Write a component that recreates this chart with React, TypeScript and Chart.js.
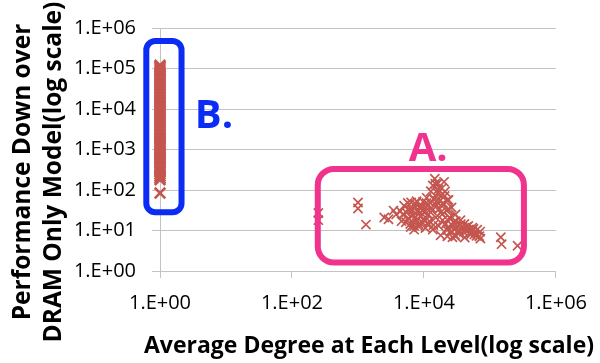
import React, { useEffect, useRef } from 'react';
import { Chart, registerables } from 'chart.js';

Chart.register(...registerables);

// ---- Data ----
// Group B: all points sit at an average degree of 1
const groupBDegree = 1;
const groupBPerf = [
  120000, 110000, 100000, 90000, 81000, 73000, 66000, 59000, 53000, 48000,
  43000, 39000, 35000, 31500, 28000, 25500, 23000, 20500, 18500, 16500,
  15000, 13500, 12000, 10800, 9700, 8700, 7800, 7000, 6300, 5700,
  5100, 4600, 4100, 3700, 3300, 3000, 2700, 2400, 2150, 1950,
  1750, 1550, 1400, 1250, 1120, 1000, 900, 810, 730, 650,
  590, 530, 470, 420, 380, 340, 305, 275, 245, 220,
  200, 180, 84,
];

// Group A
const groupADegree = [
  251, 251, 1000, 1000, 1320, 2500, 2900, 3460, 3800, 4570,
  5000, 5400, 5800, 6200, 6600, 6900, 7400, 7600, 8100, 8400,
  8700, 9100, 9700, 10000, 10300, 10700, 11000, 11500, 11800, 12300,
  12700, 13200, 13600, 14100, 14600, 15100, 15600, 16200, 16700, 17300,
  17900, 18600, 19200, 19900, 20600, 21300, 22000, 22800, 23600, 24400,
  25300, 26200, 28000, 29000, 30000, 32000, 33500, 35700, 38200, 41000,
  44000, 47000, 50500, 54000, 58000, 64000, 69000, 71000, 146000, 150000,
  262000, 6000, 9400, 7100, 4400, 13600, 17900, 27000, 16200, 7100,
  6400, 22600, 30000, 47000,
  4790, 5310, 5690, 6300, 6750, 7230, 7740, 8280, 8870, 9190,
  9840, 10520, 10890, 11670, 12080, 12940, 13840, 14330,
  14830, 16440, 18200, 15350, 19500, 17020, 20890, 22390, 18840, 23120, 20180,
  24780, 27470, 30410, 33710, 36130, 40000, 44360, 50840, 56340, 62470,
  71620, 41400, 29440, 22390,
];
const groupAPerf = [
  27, 18, 49, 35, 14, 21, 19, 31, 25, 17,
  41, 28, 20, 14.5, 33, 24, 46, 18, 30, 12.3,
  39, 22.5, 51, 28, 17, 37, 64, 24, 14.5, 49,
  93, 31, 130, 60, 190, 21, 41, 84, 13, 54,
  28, 110, 18, 44, 71, 14.5, 31, 11.7, 57, 21,
  9.4, 37, 16, 10.5, 25, 13, 8.5, 18, 11.7, 14.5,
  10, 13, 8.9, 11.7, 8, 10.5, 7.2, 9.4, 6.8, 4.6,
  4.2, 33, 16, 13, 30, 10.5, 7.6, 6.8, 145, 10.5,
  49, 7.2, 7.2, 10.5,
  25, 16, 48, 12.2, 31, 21, 53, 14.4, 28, 41,
  19, 11.5, 48, 25, 17, 36, 13.6, 59,
  143, 103, 74, 53, 48, 34, 92, 56, 25, 33, 159,
  20, 12.9, 17, 10.3, 14.4, 9.3, 12.2, 7.9, 10.9, 7.4,
  6.3, 6.7, 7.9, 10.3,
];

const xTickValues = [1, 1e2, 1e4, 1e6];
const xTickLabels = ['1.E+00', '1.E+02', '1.E+04', '1.E+06'];
const yTickValues = [1, 1e1, 1e2, 1e3, 1e4, 1e5, 1e6];
const yTickLabels = ['1.E+00', '1.E+01', '1.E+02', '1.E+03', '1.E+04', '1.E+05', '1.E+06'];

const xTitle = 'Average Degree at Each Level(log scale)';
const yTitleLines = ['Performance Down over', 'DRAM Only Model(log scale)'];

// Annotation boxes (in data coordinates)
const boxLabels = ['B.', 'A.'];
const boxColors = ['#0a2cf5', '#f0338c'];
const boxXMin = [0.62, 246];
const boxXMax = [2.12, 327000];
const boxYMin = [28.4, 1.61];
const boxYMax = [480000, 330];
const boxRadius = [9, 16];
const labelX = [3.37, 5870];
const labelY = [3400, 527];

const MARKER = '#c4564f';
const FONT = '"Open Sans", Lato, sans-serif';

const overlay = {
  id: 'overlay',
  afterDraw(chart: any) {
    const { ctx } = chart;
    const xs = chart.scales.x;
    const ys = chart.scales.y;
    ctx.save();
    for (let i = 0; i < boxLabels.length; i++) {
      const l = xs.getPixelForValue(boxXMin[i]);
      const r = xs.getPixelForValue(boxXMax[i]);
      const t = ys.getPixelForValue(boxYMax[i]);
      const b = ys.getPixelForValue(boxYMin[i]);
      ctx.beginPath();
      ctx.lineWidth = 6;
      ctx.strokeStyle = boxColors[i];
      ctx.roundRect(l, t, r - l, b - t, boxRadius[i]);
      ctx.stroke();
      ctx.fillStyle = boxColors[i];
      ctx.font = `bold 40px ${FONT}`;
      ctx.textAlign = 'left';
      ctx.textBaseline = 'alphabetic';
      ctx.fillText(boxLabels[i], xs.getPixelForValue(labelX[i]), ys.getPixelForValue(labelY[i]));
    }
    // axis titles
    ctx.fillStyle = '#000';
    ctx.textAlign = 'center';
    ctx.textBaseline = 'alphabetic';
    ctx.font = `bold 23px ${FONT}`;
    ctx.fillText(xTitle, 369, 353);
    ctx.font = `bold 24.5px ${FONT}`;
    const baselines = [30, 61];
    for (let i = 0; i < yTitleLines.length; i++) {
      ctx.save();
      ctx.translate(baselines[i], 172);
      ctx.rotate(-Math.PI / 2);
      ctx.fillText(yTitleLines[i], 0, 0);
      ctx.restore();
    }
    ctx.restore();
  },
};

export default function App() {
  const ref = useRef<HTMLCanvasElement>(null);
  useEffect(() => {
    if (!ref.current) return;
    const chart = new Chart(ref.current, {
      type: 'scatter',
      data: {
        datasets: [
          {
            data: groupBPerf.map((v) => ({ x: groupBDegree, y: v })),
            pointStyle: 'crossRot',
            pointRadius: 7.5,
            pointBorderWidth: 2.6,
            pointBorderColor: MARKER,
            pointBackgroundColor: MARKER,
            showLine: false,
            clip: false,
          } as any,
          {
            data: groupADegree.map((d, i) => ({ x: d, y: groupAPerf[i] })),
            pointStyle: 'crossRot',
            pointRadius: 6.5,
            pointBorderWidth: 1.7,
            pointBorderColor: MARKER,
            pointBackgroundColor: MARKER,
            showLine: false,
            clip: false,
          } as any,
        ],
      },
      options: {
        animation: false,
        responsive: false,
        events: [],
        layout: { padding: { top: 18, right: 37, left: 0, bottom: 0 } },
        plugins: { legend: { display: false }, tooltip: { enabled: false } },
        scales: {
          x: {
            type: 'logarithmic',
            min: 1,
            max: 1e6,
            afterBuildTicks: (s: any) => {
              s.ticks = xTickValues.map((v) => ({ value: v }));
            },
            afterFit: (s: any) => {
              s.height = 92;
            },
            ticks: {
              callback: (v: any) => xTickLabels[xTickValues.indexOf(Number(v))],
              font: { family: FONT, size: 20 },
              color: '#000',
              padding: 13,
              maxRotation: 0,
              autoSkip: false,
            },
            grid: { drawOnChartArea: false, tickLength: 7, color: '#c3c3c3' },
            border: { color: '#c3c3c3' },
          },
          y: {
            type: 'logarithmic',
            min: 1,
            max: 1e6,
            afterBuildTicks: (s: any) => {
              s.ticks = yTickValues.map((v) => ({ value: v }));
            },
            afterFit: (s: any) => {
              s.width = 160;
            },
            ticks: {
              callback: (v: any) => yTickLabels[yTickValues.indexOf(Number(v))],
              font: { family: FONT, size: 20 },
              color: '#000',
              padding: 16,
              autoSkip: false,
            },
            grid: { tickLength: 8, color: '#c3c3c3' },
            border: { color: '#c3c3c3' },
          },
        },
      },
      plugins: [overlay],
    });
    return () => chart.destroy();
  }, []);
  return (
    <div style={{ position: 'fixed', left: 0, top: 0, width: 600, height: 363, background: '#fff' }}>
      <canvas ref={ref} width={600} height={363} />
    </div>
  );
}
